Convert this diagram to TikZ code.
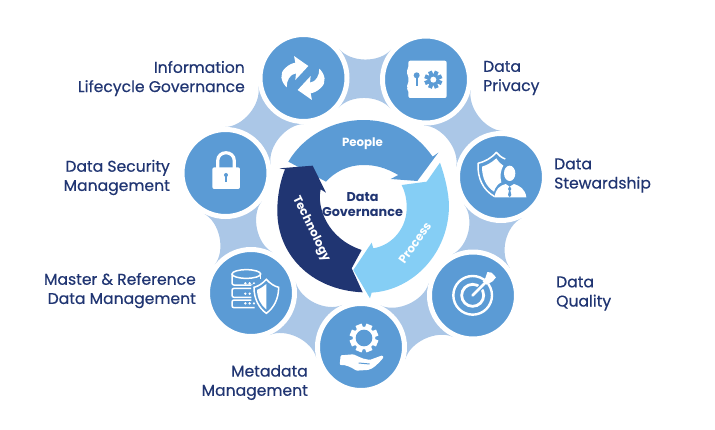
\documentclass[tikz,border=0pt]{standalone}
\usepackage{fontspec}
\setmainfont{Poppins}
\newfontfamily\labelfont[FakeBold=0.5]{Poppins}
\usetikzlibrary{calc,backgrounds}
\definecolor{hubblue}{HTML}{5B9BD5}
\definecolor{webblue}{HTML}{ABC7E7}
\definecolor{skyblue}{HTML}{85CEF5}
\definecolor{navyblue}{HTML}{203572}
\tikzset{
  hubnode/.style={circle, fill=hubblue, draw=white, line width=5pt, minimum size=87pt, inner sep=0pt},
  leftlabel/.style={anchor=east, align=right, inner sep=0pt, text=navyblue, font=\labelfont\fontsize{15.6}{19.2}\selectfont},
  rightlabel/.style={anchor=west, align=left, inner sep=0pt, text=navyblue, font=\labelfont\fontsize{15.6}{19.2}\selectfont},
  ringlabel/.style={text=white, inner sep=0pt, font=\fontsize{11.8}{12}\selectfont\bfseries},
  iconline/.style={draw=white, line width=1.5pt}
}
% gear at the current origin: #1 tooth radius, #2 rim radius, #3 hole radius, #4 gear colour, #5 hole colour
\newcommand{\geartoothed}[5]{
  \foreach \a in {0,45,...,315} {\draw[#4, line width=#1*.15pt] (\a+22.5:#2*.9) -- (\a+22.5:#1);}
  \fill[#4] (0,0) circle (#2);
  \fill[#5] (0,0) circle (#3);
}
\begin{document}
\begin{tikzpicture}[x=1pt, y=-1pt]
  \useasboundingbox (0,0) rectangle (715,429);

  \node[hubnode] (refresh) at (303.5,78) {};
  \node[hubnode] (safe) at (426,79.5) {};
  \node[hubnode] (steward) at (501,177) {};
  \node[hubnode] (quality) at (473,295.5) {};
  \node[hubnode] (metadata) at (361,347) {};
  \node[hubnode] (master) at (251,293) {};
  \node[hubnode] (security) at (225.5,173) {};

  \begin{scope}[on background layer]
    \foreach \a/\b in {security/refresh, refresh/safe, safe/steward, steward/quality, quality/metadata, metadata/master, master/security} {
      \fill[webblue] ($(\a)!46pt!40:(\b)$) .. controls ($(\a)!49.4pt!18.6:(\b)$) and ($(\b)!49.4pt!-18.6:(\a)$) .. ($(\b)!46pt!-40:(\a)$)
        -- (\b.center) -- ($(\b)!46pt!40:(\a)$) .. controls ($(\b)!49.4pt!18.6:(\a)$) and ($(\a)!49.4pt!-18.6:(\b)$) .. ($(\a)!46pt!-40:(\b)$)
        -- (\a.center) -- cycle;
    }
  \end{scope}

  % the three ring arrows
  \begin{scope}[shift={(270,110)}, scale=.3333]
    \fill[hubblue] (55,155) .. controls (101,77) and (189,30) .. (280,30) .. controls (368,30) and (437,68) .. (488,140)
      -- (505,128) -- (442,213) -- (362,207) -- (385,195) .. controls (345,172) and (315,165) .. (280,165)
      .. controls (235,165) and (195,185) .. (168,215) -- cycle;
    \fill[skyblue] (510,158) .. controls (525,200) and (537,250) .. (537,290) .. controls (535,430) and (430,540) .. (305,548)
      -- (300,565) -- (250,480) -- (305,398) -- (310,415) .. controls (370,405) and (412,350) .. (410,290)
      .. controls (410,265) and (405,245) .. (395,225) -- (470,215) -- cycle;
    \fill[navyblue] (28,175) -- (128,167) -- (168,248) -- (152,238) .. controls (140,290) and (170,385) .. (275,420)
      -- (245,475) -- (278,547) .. controls (120,540) and (20,430) .. (22,300) .. controls (22,260) and (30,215) .. (45,178) -- cycle;
  \end{scope}
  \node[ringlabel] (people) at (362.5,143.5) {People};
  \node[ringlabel, rotate=55] (process) at (415,243) {Process};
  \node[ringlabel, rotate=-64] (technology) at (311,229) {Technology};
  \node[align=center, text=navyblue, font=\fontsize{12.8}{14.5}\selectfont\bfseries] (governance) at (362.5,204.5) {Data\\Governance};

  % refresh
  \begin{scope}[shift={(270,45)}, scale=.3333]
    \foreach \r in {0,180} {
      \fill[white, rotate around={\r:(99,99)}] (72,33) -- (115,63) -- (76,105) -- (78,85) .. controls (60,88) and (50,105) .. (50,127)
        .. controls (32,110) and (28,85) .. (45,70) .. controls (55,60) and (65,55) .. (76,53) -- cycle;
    }
  \end{scope}

  % safe
  \begin{scope}[shift={(395,48)}, scale=.3333]
    \fill[white, rounded corners=2pt] (40,38) -- (155,38) -- (155,150) -- (40,150) -- (40,125) -- (33,118) -- (40,108) -- (40,82) -- (33,72) -- (40,62) -- cycle;
    \fill[hubblue] (65,82) circle (9);
    \fill[hubblue] (62,82) rectangle (68,115);
    \begin{scope}[shift={(115,95)}]
      \geartoothed{27}{18}{9}{hubblue}{white}
    \end{scope}
  \end{scope}

  % shield with person
  \begin{scope}[shift={(468,145)}, scale=.3333]
    \draw[iconline, line join=round] (112,42) .. controls (100,38) and (92,30) .. (85,22) .. controls (70,40) and (50,50) .. (30,55)
      .. controls (28,100) and (45,135) .. (80,155);
    \fill[white] (85,40) .. controls (72,52) and (58,60) .. (42,65) .. controls (42,100) and (55,125) .. (78,140)
      .. controls (82,125) and (92,115) .. (100,112) .. controls (95,95) and (98,75) .. (106,62) .. controls (98,58) and (92,50) .. (85,40) -- cycle;
    \fill[white] (125,85) ellipse (17 and 23);
    \fill[white] (80,157) .. controls (82,132) and (95,122) .. (113,117) -- (125,125) -- (138,117) .. controls (155,122) and (172,132) .. (175,157) -- cycle;
    \fill[hubblue] (125,123) -- (130,132) -- (127,137) -- (130,150) -- (125,157) -- (120,150) -- (123,137) -- (120,132) -- cycle;
  \end{scope}

  % target
  \begin{scope}[shift={(440,262)}, scale=.3333]
    \draw[white, line width=2.4pt] (98,100) circle (58);
    \draw[white, line width=2.8pt] (98,100) circle (33);
    \draw[hubblue, line width=5pt] (98,100) -- (160,38);
    \draw[white, line width=2.8pt, line cap=round] (98,100) -- (142,56);
    \fill[white] (128,58) -- (136,48) -- (142,30) -- (155,32) -- (168,46) -- (158,58) -- (140,68) -- cycle;
  \end{scope}

  % gear over hand
  \begin{scope}[shift={(328,314)}, scale=.3333]
    \begin{scope}[shift={(108,72)}]
      \geartoothed{43}{34}{25}{white}{hubblue}
    \end{scope}
    \fill[white, rounded corners=1pt] (38,124) -- (75,121) .. controls (88,124) and (95,132) .. (108,134) -- (125,138) -- (163,124) -- (167,130)
      .. controls (150,150) and (135,165) .. (118,168) -- (85,170) .. controls (70,160) and (55,152) .. (35,153) -- cycle;
    \draw[hubblue, line width=1pt] (92,147) -- (125,150);
  \end{scope}

  % database with shield
  \begin{scope}[shift={(218,260)}, scale=.3333]
    \draw[iconline] (85,42) ellipse (43 and 13);
    \draw[iconline, rounded corners=2pt] (42,42) -- (42,75) -- (105,75);
    \draw[iconline] (128,42) -- (128,58);
    \draw[iconline, rounded corners=2pt] (100,85) -- (42,85) -- (42,112) -- (100,112);
    \draw[iconline, rounded corners=2pt] (100,120) -- (42,120) -- (42,143) -- (110,143);
    \foreach \y in {70,101,130} {
      \foreach \x in {82,95,108} {\fill[white] (\x,\y) circle (4);}
    }
    \fill[hubblue] (145,48) .. controls (130,62) and (118,70) .. (100,75) .. controls (100,120) and (118,150) .. (145,170)
      .. controls (172,150) and (190,120) .. (190,75) .. controls (172,70) and (160,62) .. (145,48) -- cycle;
    \draw[iconline] (145,58) .. controls (132,72) and (122,78) .. (108,82) .. controls (108,118) and (124,145) .. (145,160)
      .. controls (166,145) and (182,118) .. (182,82) .. controls (168,78) and (158,72) .. (145,58) -- cycle;
    \fill[white] (117,90) .. controls (127,86) and (135,80) .. (145,72) -- (145,148) .. controls (128,135) and (118,115) .. (117,90) -- cycle;
  \end{scope}

  % padlock
  \begin{scope}[shift={(170,110)}, scale=.3333]
    \draw[white, line width=3.2pt] (143,175) -- (143,153) .. controls (143,120) and (193,120) .. (193,153) -- (193,175);
    \fill[white, rounded corners=2pt] (127,172) rectangle (210,237);
    \fill[hubblue] (168,195) circle (6);
    \fill[hubblue] (165,195) rectangle (171,216);
  \end{scope}

  \node[leftlabel] (infolabel) at (245,78.5) {Information\\Lifecycle Governance};
  \node[rightlabel] (privacylabel) at (483,78) {Data\\Privacy};
  \node[rightlabel] (stewardlabel) at (554,175.5) {Data\\Stewardship};
  \node[rightlabel] (qualitylabel) at (556,293.5) {Data\\Quality};
  \node[leftlabel] (metalabel) at (308,382.5) {Metadata\\Management};
  \node[leftlabel] (masterlabel) at (196,290.5) {Master \& Reference\\Data Management};
  \node[leftlabel] (securitylabel) at (170,177.5) {Data Security\\Management};
\end{tikzpicture}
\end{document}
